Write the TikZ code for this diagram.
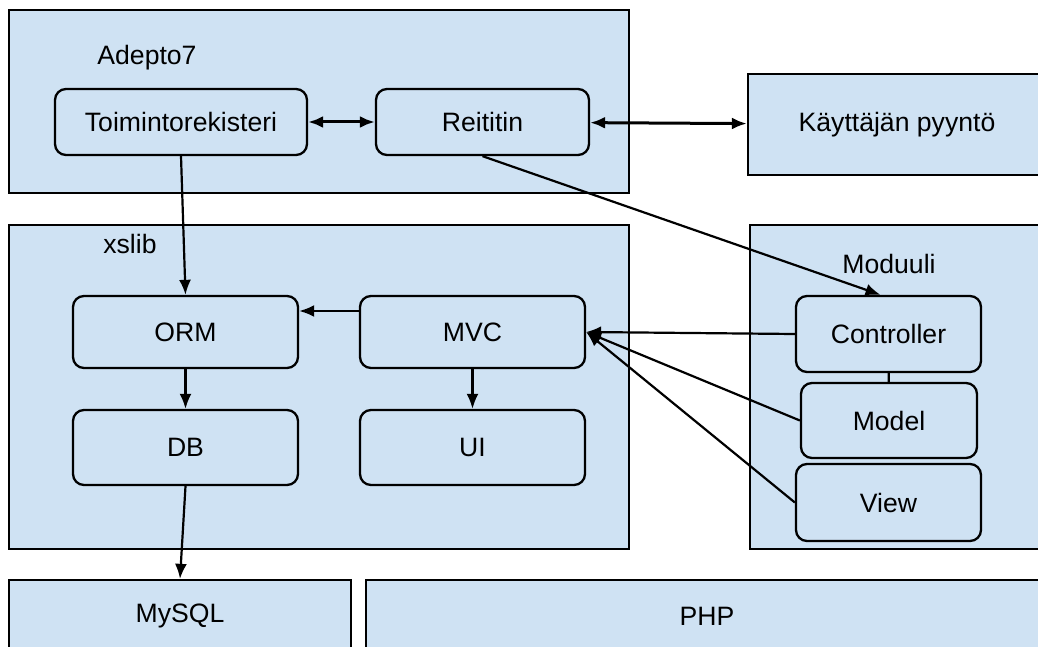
\documentclass[tikz,border=0pt]{standalone}
\usepackage{fontspec}
\setmainfont{Liberation Sans}
\usepackage{tikz}
\usetikzlibrary{arrows.meta}
\definecolor{boxblue}{HTML}{CFE2F3}

\begin{document}
\begin{tikzpicture}[x=1pt, y=-1pt, font=\fontsize{26.6}{30}\selectfont, >={Latex[width=12pt,length=15pt]}]
% Define styles
\tikzstyle{layer} = [rectangle, draw, line width=2.3pt, fill=boxblue, inner sep=0pt]
\tikzstyle{part} = [rectangle, rounded corners=11pt, draw, line width=2.3pt, fill=boxblue, inner sep=0pt, text centered]
\tikzstyle{link} = [line width=2.2pt]
\useasboundingbox (0,0) rectangle (1038,647);
% Define outer boxes
\node[layer, minimum width=620pt, minimum height=183pt] (adepto) at (319,101.5) {};
\node[layer, minimum width=298pt, minimum height=101pt] (kayttaja) at (897,124.5) {Käyttäjän pyyntö};
\node[layer, minimum width=620pt, minimum height=324pt] (xslib) at (319,387) {};
\node[layer, minimum width=298pt, minimum height=324pt] (moduuli) at (899,387) {};
\node[layer, minimum width=342pt, minimum height=72pt] (mysql) at (180,616) {MySQL};
\node[layer, minimum width=682pt, minimum height=72pt] (php) at (707,616) {PHP};
% Box titles
\node (adeptolabel) at (147,58) {Adepto7};
\node (xsliblabel) at (130,244) {xslib};
\node (moduulilabel) at (889,264) {Moduuli};
% Define nodes
\node[part, minimum width=252pt, minimum height=66pt] (toimreg) at (181,122) {Toimintorekisteri};
\node[part, minimum width=213pt, minimum height=66pt] (reititin) at (482.5,122) {Reititin};
\node[part, minimum width=225pt, minimum height=72pt] (orm) at (185.5,332) {ORM};
\node[part, minimum width=225pt, minimum height=72pt] (mvc) at (472.5,332) {MVC};
\node[part, minimum width=225pt, minimum height=75pt] (db) at (185.5,447.5) {DB};
\node[part, minimum width=225pt, minimum height=75pt] (ui) at (472.5,447.5) {UI};
\node[part, minimum width=185pt, minimum height=76pt] (controller) at (888.5,334) {Controller};
\node[part, minimum width=176pt, minimum height=75pt] (model) at (889,420.5) {Model};
\node[part, minimum width=185pt, minimum height=77pt] (view) at (888.5,502.5) {View};
% Connect the nodes
\draw[link, line width=3pt, <->] (toimreg) -- (reititin);
\draw[link, line width=3pt, <->] (reititin) -- (kayttaja);
\draw[link, ->] (toimreg.south) -- (orm.north);
\draw[link, ->] (reititin.south) -- ([xshift=-8pt]controller.north);
\draw[link, ->] ([yshift=21pt]mvc.west) -- ([yshift=21pt]orm.east);
\draw[link, ->] (orm) -- (db);
\draw[link, ->] (mvc) -- (ui);
\draw[link, ->] (db.south) -- (mysql.north);
\draw[link] (controller) -- (model);
\draw[link, ->] (controller.west) -- (mvc.east);
\draw[link, ->] (model.west) -- (mvc.east);
\draw[link, ->] (view.west) -- (mvc.east);
\end{tikzpicture}
\end{document}
